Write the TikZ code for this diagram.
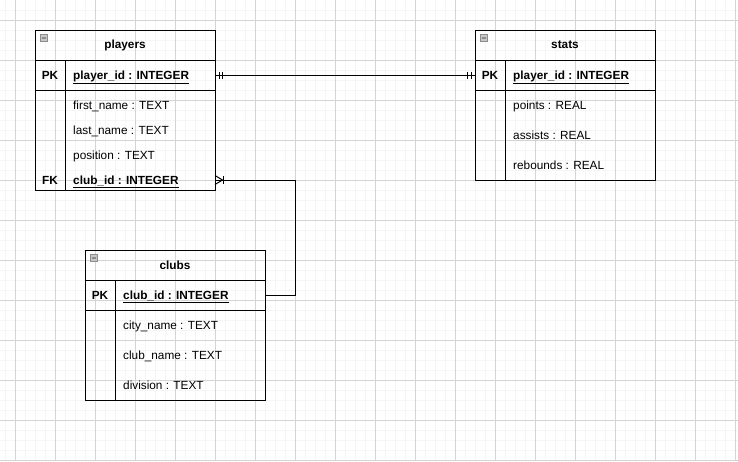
\documentclass[tikz,border=0pt]{standalone}
\usepackage{fontspec}
\setmainfont{Liberation Sans}
\usepackage{tikz}
\usetikzlibrary{positioning}

\tikzset{
  tabline/.style={line width=1pt},
  tabhead/.style={draw, tabline, minimum width=180pt, minimum height=30pt, inner sep=0pt, outer sep=0pt, font=\bfseries},
  keyrow/.style={draw, tabline, minimum width=180pt, minimum height=30pt, inner sep=0pt, outer sep=0pt},
  bodyrow/.style={draw, tabline, minimum width=180pt, inner sep=0pt, outer sep=0pt},
  field/.style={anchor=west, inner sep=0pt, text height=8.5pt, text depth=0.5pt},
  keyfield/.style={field, font=\bfseries},
  keylabel/.style={inner sep=0pt, text height=8.5pt, text depth=0.5pt, font=\bfseries},
  minbox/.style={draw=black!45, fill=black!22, line width=0.6pt, minimum size=7pt, inner sep=0pt,
    path picture={\draw[line width=1.2pt] ([xshift=-2.2pt]path picture bounding box.center) -- ([xshift=2.2pt]path picture bounding box.center);}},
  conn/.style={line width=1pt},
  minorgrid/.style={black!4, line width=0.6pt},
  majorgrid/.style={black!17, line width=0.7pt}
}

\begin{document}
\fontsize{11.8}{14}\selectfont
\begin{tikzpicture}[x=1pt, y=-1pt]
  \fill[white] (0,0) rectangle (738,461);
  \useasboundingbox (0,0) rectangle (738,461);
  \foreach \x in {5,15,...,735} \draw[minorgrid] (\x,0) -- (\x,461);
  \foreach \y in {10,20,...,460} \draw[minorgrid] (0,\y) -- (738,\y);
  \foreach \x in {15,55,...,735} \draw[majorgrid] (\x,0) -- (\x,461);
  \foreach \y in {20,60,...,460} \draw[majorgrid] (0,\y) -- (738,\y);

  \node[tabhead] (players) at (125,45) {players};
  \node[keyrow, below=0pt of players] (playerspk) {};
  \node[bodyrow, minimum height=100pt, below=0pt of playerspk] (playersbody) {};
  \draw[tabline] ([xshift=30pt]playerspk.north west) -- ([xshift=30pt]playersbody.south west);
  \node[minbox] (playersmin) at ([shift={(9pt,-8pt)}]players.north west) {};
  \node[keylabel] (playerspklabel) at ([xshift=15pt]playerspk.west) {PK};
  \node[keyfield] (playersid) at ([xshift=38pt]playerspk.west) {\underline{player\_id : INTEGER}};
  \node[field] (playersfirst) at ([shift={(38pt,-15pt)}]playerspk.south west) {first\_name : TEXT};
  \node[field] (playerslast) at ([shift={(38pt,-40pt)}]playerspk.south west) {last\_name : TEXT};
  \node[field] (playerspos) at ([shift={(38pt,-65pt)}]playerspk.south west) {position : TEXT};
  \node[keyfield] (playersclub) at ([shift={(38pt,-90pt)}]playerspk.south west) {\underline{club\_id : INTEGER}};
  \node[keylabel] (playersfklabel) at ([shift={(15pt,-90pt)}]playerspk.south west) {FK};
  \coordinate (playersfk) at ([yshift=10pt]playersbody.south east);

  \node[tabhead] (stats) at (565,45) {stats};
  \node[keyrow, below=0pt of stats] (statspk) {};
  \node[bodyrow, minimum height=90pt, below=0pt of statspk] (statsbody) {};
  \draw[tabline] ([xshift=30pt]statspk.north west) -- ([xshift=30pt]statsbody.south west);
  \node[minbox] (statsmin) at ([shift={(9pt,-8pt)}]stats.north west) {};
  \node[keylabel] (statspklabel) at ([xshift=15pt]statspk.west) {PK};
  \node[keyfield] (statsid) at ([xshift=38pt]statspk.west) {\underline{player\_id : INTEGER}};
  \node[field] (statspoints) at ([shift={(38pt,-15pt)}]statspk.south west) {points : REAL};
  \node[field] (statsassists) at ([shift={(38pt,-45pt)}]statspk.south west) {assists : REAL};
  \node[field] (statsrebounds) at ([shift={(38pt,-75pt)}]statspk.south west) {rebounds : REAL};

  \node[tabhead] (clubs) at (175,265) {clubs};
  \node[keyrow, below=0pt of clubs] (clubspk) {};
  \node[bodyrow, minimum height=90pt, below=0pt of clubspk] (clubsbody) {};
  \draw[tabline] ([xshift=30pt]clubspk.north west) -- ([xshift=30pt]clubsbody.south west);
  \node[minbox] (clubsmin) at ([shift={(9pt,-8pt)}]clubs.north west) {};
  \node[keylabel] (clubspklabel) at ([xshift=15pt]clubspk.west) {PK};
  \node[keyfield] (clubsid) at ([xshift=38pt]clubspk.west) {\underline{club\_id : INTEGER}};
  \node[field] (clubscity) at ([shift={(38pt,-15pt)}]clubspk.south west) {city\_name : TEXT};
  \node[field] (clubsname) at ([shift={(38pt,-45pt)}]clubspk.south west) {club\_name : TEXT};
  \node[field] (clubsdiv) at ([shift={(38pt,-75pt)}]clubspk.south west) {division : TEXT};

  \draw[conn] (playerspk.east) -- (statspk.west);
  \draw[conn] ([xshift=4pt]playerspk.east) ++(0,-3.5) -- ++(0,7);
  \draw[conn] ([xshift=7.5pt]playerspk.east) ++(0,-3.5) -- ++(0,7);
  \draw[conn] ([xshift=-4pt]statspk.west) ++(0,-3.5) -- ++(0,7);
  \draw[conn] ([xshift=-7.5pt]statspk.west) ++(0,-3.5) -- ++(0,7);

  \draw[conn] (clubspk.east) -- ++(30pt,0) |- (playersfk);
  \draw[conn] (playersfk) ++(0,-4.5) -- ++(7.5,4.5) -- ++(-7.5,4.5);
  \draw[conn] ([xshift=8pt]playersfk) ++(0,-4) -- ++(0,8);
\end{tikzpicture}
\end{document}
